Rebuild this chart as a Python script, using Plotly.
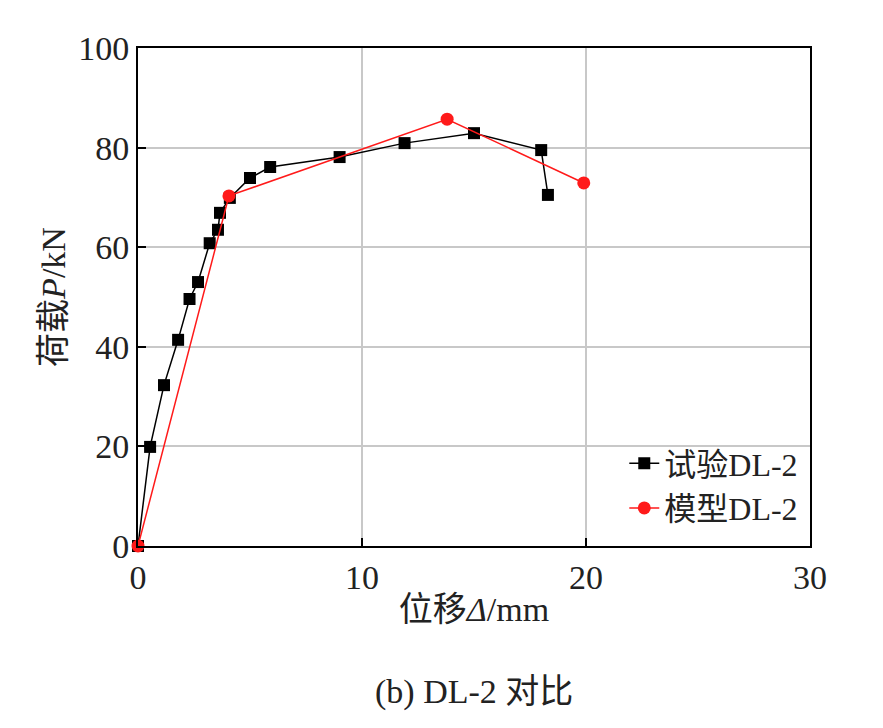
import plotly.graph_objects as go

test_x = [0, 0.54, 1.16, 1.79, 2.3, 2.68, 3.2, 3.57, 3.66, 4.1, 5.0, 5.9, 9.0, 11.9, 15.0, 18.0, 18.3]
test_y = [0, 19.9, 32.3, 41.4, 49.6, 53.0, 60.8, 63.5, 66.9, 69.9, 73.9, 76.1, 78.1, 80.9, 82.9, 79.5, 70.5]
model_x = [0, 4.06, 13.8, 19.9]
model_y = [0, 70.3, 85.7, 72.9]
xticks = [0, 10, 20, 30]
yticks = [0, 20, 40, 60, 80, 100]

font = "Liberation Serif, Noto Sans CJK SC"
fig = go.Figure()
fig.add_trace(go.Scatter(x=test_x, y=test_y, name="试验DL-2", mode="lines+markers", cliponaxis=False,
                         line=dict(color="black", width=1.5),
                         marker=dict(symbol="square", size=12, color="black")))
fig.add_trace(go.Scatter(x=model_x, y=model_y, name="模型DL-2", mode="lines+markers", cliponaxis=False,
                         line=dict(color="#ff1a1a", width=1.5),
                         marker=dict(symbol="circle", size=13, color="#ff1a1a")))
ax = dict(showline=True, linecolor="black", linewidth=2, mirror=True, ticks="inside",
          ticklen=8, tickwidth=2, tickcolor="black", showgrid=True, gridcolor="#c8c8c8",
          gridwidth=1.5, zeroline=False, tickfont=dict(size=34, family=font, color="#222"))
fig.update_xaxes(range=[0, 30], tickvals=xticks, title=dict(text="位移<i>Δ</i>/mm", font=dict(size=34, family=font), standoff=2), **ax)
fig.update_yaxes(range=[0, 100], tickvals=yticks, title=dict(text="荷载<i>P</i>/kN", font=dict(size=34, family=font), standoff=2), **ax)
fig.update_layout(width=883, height=728, plot_bgcolor="white", paper_bgcolor="white",
                  margin=dict(l=130, r=81, t=40, b=190),
                  font=dict(family=font, color="#222"),
                  legend=dict(x=0.99, y=0.02, xanchor="right", yanchor="bottom", tracegroupgap=0,
                              bgcolor="rgba(255,255,255,0)", font=dict(size=32, family=font)),
                  annotations=[dict(text="(b) DL-2 对比", x=0.5, y=-0.335, xref="paper", yref="paper",
                                    showarrow=False, font=dict(size=34, family=font))])
fig.write_html("out.html")
